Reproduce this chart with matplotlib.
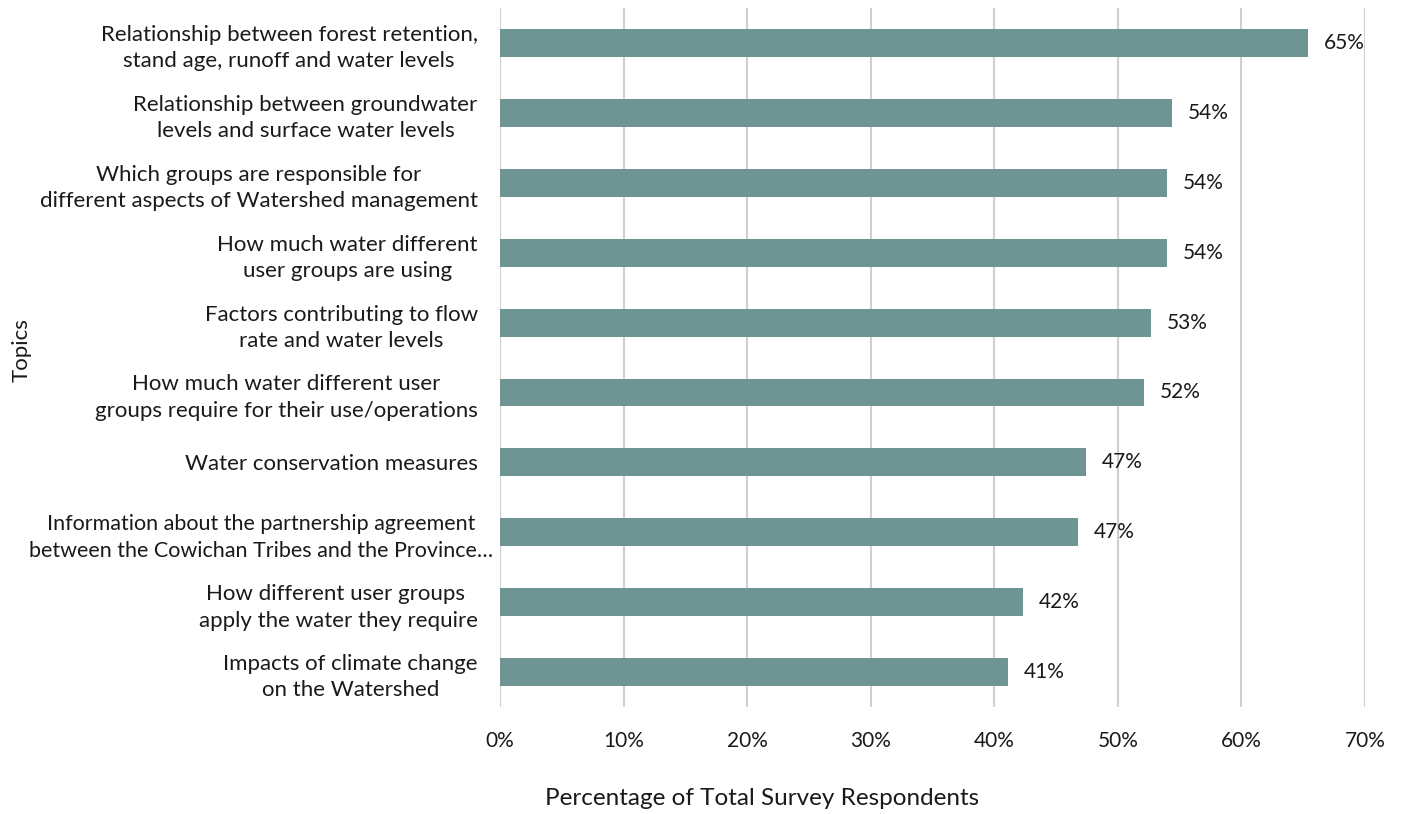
import matplotlib
matplotlib.use("Agg")
import matplotlib.pyplot as plt
from matplotlib.ticker import FuncFormatter

plt.rcParams['font.family'] = ['Lato', 'DejaVu Sans']

# survey topics, listed top to bottom
topics = [
    "Relationship between forest retention,\nstand age, runoff and water levels",
    "Relationship between groundwater\nlevels and surface water levels",
    "Which groups are responsible for\ndifferent aspects of Watershed management",
    "How much water different\nuser groups are using",
    "Factors contributing to flow\nrate and water levels",
    "How much water different user\ngroups require for their use/operations",
    "Water conservation measures",
    "Information about the partnership agreement\nbetween the Cowichan Tribes and the Province\u2026",
    "How different user groups \napply the water they require",
    "Impacts of climate change\non the Watershed",
]
# share of respondents (%)
percent = [65.4, 54.4, 54.0, 54.0, 52.7, 52.1, 47.4, 46.8, 42.3, 41.1]

xticks = [0, 10, 20, 30, 40, 50, 60, 70]

bar_color = "#6f9494"
grid_color = "#d0d0d0"
text_color = "#1a1a1a"

fig = plt.figure(figsize=(14.02, 8.14), dpi=100)
ax = fig.add_axes([0.3566, 0.1314, 0.617, 0.8587])

pos = list(range(len(topics)))
bars = ax.barh(pos, percent, height=0.4, color=bar_color, zorder=2)

for b, v in zip(bars, percent):
    ax.annotate("%.0f%%" % v, xy=(b.get_width(), b.get_y() + b.get_height() / 2),
                xytext=(11.5, 0), textcoords="offset points",
                ha="left", va="center", fontsize=15, color=text_color)

ax.set_xlim(0, 70)
ax.set_ylim(len(topics) - 0.5, -0.5)
ax.set_xticks(xticks)
ax.xaxis.set_major_formatter(FuncFormatter(lambda x, p: "%d%%" % x))
ax.set_yticks(pos)
labels = ax.set_yticklabels(topics, multialignment="center", linespacing=1.4,
                            fontsize=16)

ax.grid(axis="x", color=grid_color, linewidth=1.5, zorder=0)
for s in ax.spines.values():
    s.set_visible(False)
ax.tick_params(axis="both", length=0, colors=text_color)
ax.tick_params(axis="x", labelsize=15, pad=17)
ax.tick_params(axis="y", pad=16)

# the long truncated label sits closer to the axis and a bit smaller
labels[7].set_fontsize(15.5)
ax.yaxis.get_major_ticks()[7].set_pad(5)

ax.set_xlabel("Percentage of Total Survey Respondents", fontsize=17.5,
              color=text_color)
ax.xaxis.set_label_coords(0.303, -0.116)
ax.set_ylabel("Topics", fontsize=16, color=text_color)
ax.yaxis.set_label_coords(-0.541, 0.51)

fig.savefig("out.png", dpi=100)
plt.close(fig)
